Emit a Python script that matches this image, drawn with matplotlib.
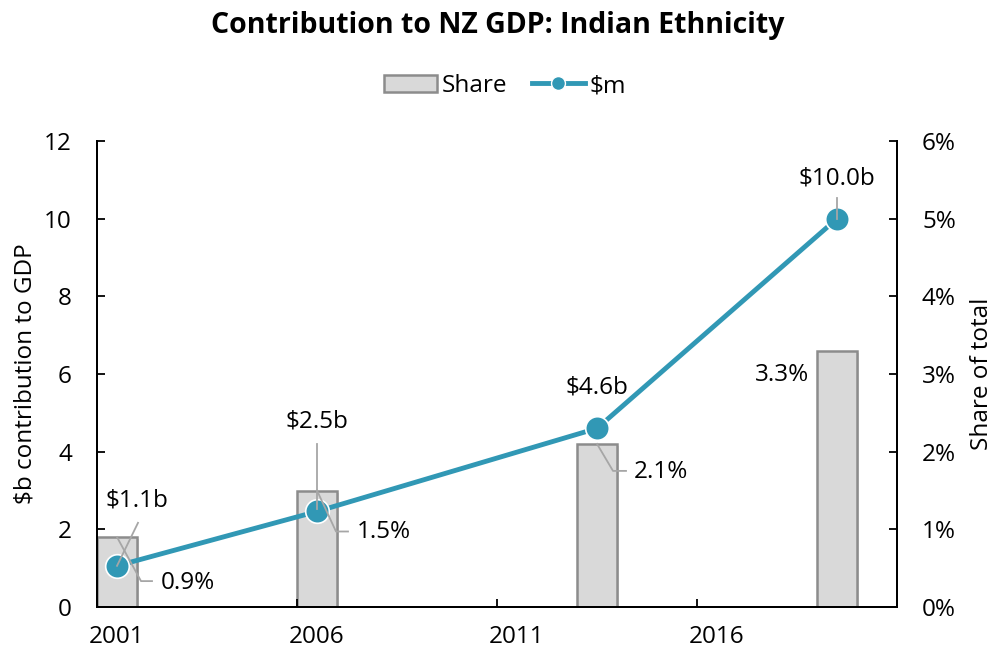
import matplotlib
matplotlib.use("Agg")
import matplotlib.pyplot as plt
import matplotlib.transforms as mtransforms
from matplotlib.patches import Patch
from matplotlib.lines import Line2D
import matplotlib.patheffects as pe
import numpy as np

plt.rcParams['font.family'] = ['Open Sans', 'DejaVu Sans']

# ---- data ----
years = [2001, 2006, 2013, 2019]
gdp_b = [1.06, 2.46, 4.6, 10.0]          # $b contribution to GDP
share_pct = [0.9, 1.5, 2.1, 3.3]         # share of total, %
gdp_labels = ["$1.1b", "$2.5b", "$4.6b", "$10.0b"]
share_labels = ["0.9%", "1.5%", "2.1%", "3.3%"]
tick_years = [2001, 2006, 2011, 2016]
left_ticks = [0, 2, 4, 6, 8, 10, 12]
right_ticks = [0, 1, 2, 3, 4, 5, 6]

# ---- style ----
LINE_C = '#3198b5'
BAR_FC = '#d9d9d9'
BAR_EC = '#8c8c8c'
LEAD_C = '#a6a6a6'
FS = 17.5

fig = plt.figure(figsize=(9.95, 6.54), dpi=100)
ax = fig.add_axes([97/995, 1-607/654, 800/995, 466/654])
ax2 = ax.twinx()
ax.set_zorder(ax2.get_zorder() + 1)
ax.patch.set_visible(False)

xs = np.array(years) + 0.5

ax2.bar(xs, share_pct, width=1.0, color=BAR_FC, edgecolor=BAR_EC, linewidth=1.8,
        path_effects=[pe.SimplePatchShadow(offset=(1.5, -1.5), alpha=0.18), pe.Normal()])
ax.plot(xs, gdp_b, color=LINE_C, lw=3.5, marker='o', ms=17, mfc=LINE_C, mec='white', mew=1.2,
        solid_capstyle='round')

ax.set_xlim(2001, 2021)
ax.set_ylim(0, 12)
ax2.set_ylim(0, 6)

ax.set_xticks([2001, 2006, 2011, 2016, 2021])
ax.set_xticklabels([])
ax.set_xticks(np.array(tick_years) + 0.5, minor=True)
ax.set_xticklabels([str(y) for y in tick_years], minor=True)
ax.tick_params(axis='x', which='major', direction='in', length=6, width=1.3)
ax.tick_params(axis='x', which='minor', length=0, pad=13, labelsize=FS)

ax.set_yticks(left_ticks)
ax.tick_params(axis='y', direction='in', length=6, width=1.3, pad=18, labelsize=FS)
ax2.set_yticks(right_ticks)
ax2.set_yticklabels([f"{v}%" for v in right_ticks])
ax2.tick_params(axis='y', direction='in', length=6, width=1.3, pad=18, labelsize=FS)

for a in (ax, ax2):
    a.spines['top'].set_visible(False)
    for s in ('left', 'right', 'bottom'):
        a.spines[s].set_linewidth(1.4)

ax.set_ylabel("$b contribution to GDP", fontsize=FS, labelpad=5)
ax2.set_ylabel("Share of total", fontsize=FS, labelpad=10)

fig.suptitle("Contribution to NZ GDP: Indian Ethnicity", fontsize=20.5, fontweight='bold',
             x=0.5, y=1-25/654, va='center')

# ---- data labels with leader lines (offsets in pixels) ----
def offs_tr(a, x, y):
    return mtransforms.Affine2D().scale(0.72 * fig.dpi / 72) + mtransforms.ScaledTranslation(x, y, a.transData)

def label(a, x, y, text, toff, lead=None):
    tr = offs_tr(a, x, y)
    if lead is not None:
        lx, ly = zip(*lead)
        a.add_line(Line2D(lx, ly, transform=tr, color=LEAD_C, lw=1.3, zorder=6))
    a.text(toff[0], toff[1], text, transform=tr, ha='center', va='center', fontsize=FS, zorder=7)

gdp_text_off = [(20, 65), (0, 90), (0, 41), (0, 40)]
gdp_leads = [[(0, 0), (21, 43)], [(0, 2), (0, 67)], None, [(0, 0), (0, 21)]]
share_text_off = [(71, -46), (67, -41), (64, -28), (-55, -24)]
share_leads = [[(0, 0), (24, -44), (35, -44)], [(0, 0), (19, -41), (31, -41)],
               [(0, 0), (16, -27), (29, -27)], None]

for i in range(len(years)):
    label(ax, xs[i], gdp_b[i], gdp_labels[i], gdp_text_off[i], gdp_leads[i])
    label(ax, xs[i], share_pct[i] * 2, share_labels[i], share_text_off[i], share_leads[i])

handles = [Patch(facecolor=BAR_FC, edgecolor=BAR_EC, linewidth=1.8),
           Line2D([], [], color=LINE_C, lw=3.5, marker='o', ms=10, mfc=LINE_C, mec='white', mew=1)]
fig.legend(handles, ["Share", "$m"], loc='center', bbox_to_anchor=(505/995, 1-86/654), ncol=2,
           frameon=False, fontsize=FS, handlelength=2.2, handleheight=0.7, handletextpad=0.2,
           columnspacing=1.0)

fig.savefig("out.png", dpi=100)
